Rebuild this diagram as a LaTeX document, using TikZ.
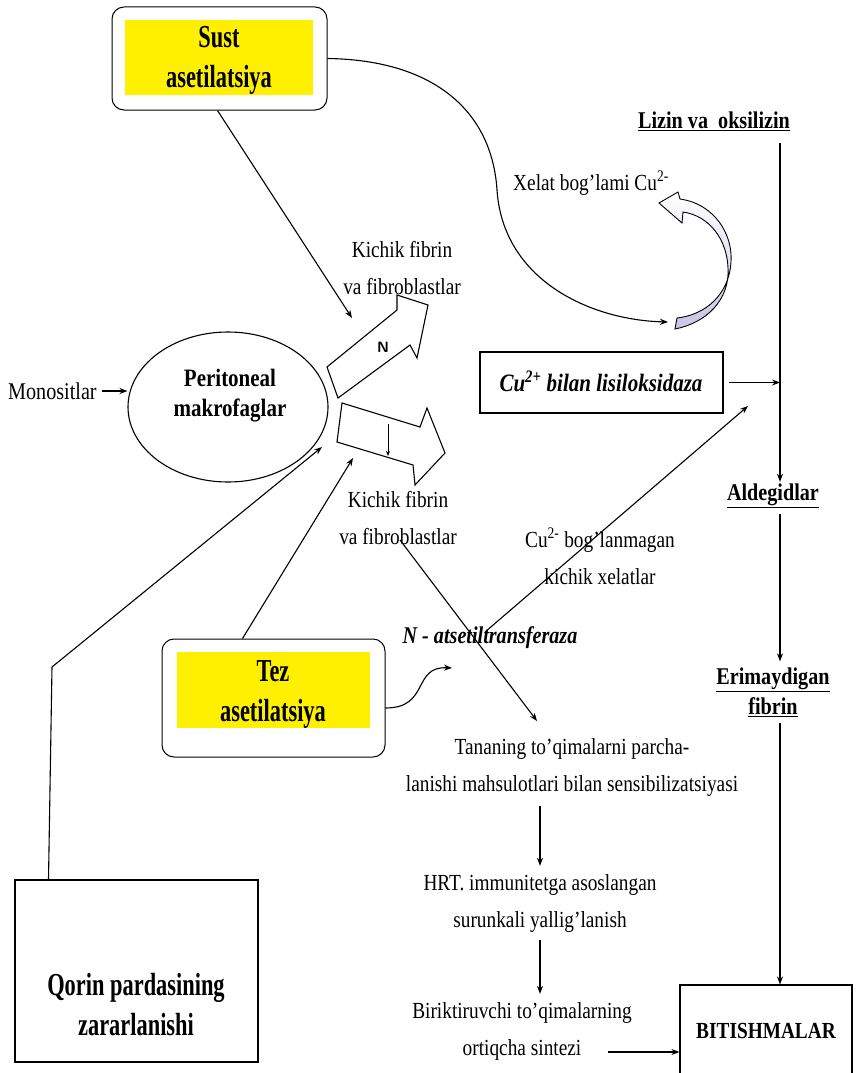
\documentclass[tikz,border=0pt]{standalone}
\usepackage{fontspec}
\setmainfont{Liberation Serif}[FakeStretch=0.84]
\newfontfamily\narrowfont{Liberation Serif}[FakeStretch=0.7]
\usetikzlibrary{arrows.meta,shapes.geometric}
\definecolor{yel}{RGB}{255,240,0}
\definecolor{lav}{RGB}{200,196,228}
\begin{document}
\begin{tikzpicture}[x=1pt,y=-1pt,
  arr/.style={-{Stealth[length=8pt,width=6pt]}, line width=1.1pt},
  sarr/.style={-{Stealth[length=5pt,width=4pt]}, line width=1pt},
  txt/.style={font=\fontsize{23}{37}\selectfont, align=center, inner sep=0pt},
  bl/.style={font=\bfseries\fontsize{23}{30}\selectfont, align=center, inner sep=0pt},
  boxlabel/.style={font=\narrowfont\bfseries\fontsize{32}{40}\selectfont, align=center, inner sep=0pt},
  rbox/.style={draw, rounded corners=12pt, line width=1pt, inner sep=0pt},
  sqbox/.style={draw, line width=1.1pt, inner sep=0pt},
  blk/.style={draw, fill=white, line width=1.1pt, line join=miter}]
\useasboundingbox (0,0) rectangle (858,1073);

% Sust asetilatsiya
\fill[yel] (125,20) rectangle (313,95);
\node[rbox, minimum width=215pt, minimum height=103pt] (sustbox) at (219.5,58.5) {};
\node[boxlabel] (sust) at (219,60) {Sust\\asetilatsiya};

% Tez asetilatsiya
\fill[yel] (177,652) rectangle (370,728);
\node[rbox, minimum width=223pt, minimum height=118pt] (tezbox) at (273.5,698) {};
\node[boxlabel] (tez) at (273,694) {Tez\\asetilatsiya};

% Peritoneal makrofaglar
\node[draw, ellipse, minimum width=200pt, minimum height=150pt, line width=1.1pt] (mak) at (228,407) {};
\node[font=\bfseries\fontsize{25}{30}\selectfont, align=center, inner sep=0pt] (makt) at (230,396) {Peritoneal\\makrofaglar};

\node[txt, font=\fontsize{24}{30}\selectfont, anchor=west] (mono) at (8,391) {Monositlar};
\draw[arr] ([xshift=5pt]mono.east) -- (mak.west |- mono.east);

% block arrows
\draw[blk] (327,367) -- (397,310) -- (397,295) -- (428,305) -- (417,358) -- (410,345) -- (338,398) -- cycle;
\node[font=\sffamily\bfseries\fontsize{15}{18}\selectfont, inner sep=0pt] (nlet) at (383,347) {N};
\draw[blk] (342,403) -- (420,427) -- (427,408) -- (445,453) -- (415,485) -- (413,465) -- (337,442) -- cycle;
\coordinate (da1) at (388,424);
\coordinate (da2) at (388,456);
\draw[sarr] (da1) -- (da2);

\node[txt] (kf1) at (402,268) {Kichik fibrin\\va fibroblastlar};
\node[txt] (kf2) at (398,518) {Kichik fibrin\\va fibroblastlar};

% arrows into the macrophage region
\coordinate (tipA) at (352,318);
\draw[arr] ([xshift=-2pt]sustbox.south) -- (tipA);
\coordinate (tipC) at (353,458);
\draw[arr] ([xshift=-31pt]tezbox.north) -- (tipC);
% Qorin pardasining
\node[sqbox, minimum width=243pt, minimum height=182pt] (qorinbox) at (136.5,971) {};
\node[boxlabel] (qorin) at (136,1005) {Qorin pardasining\\zararlanishi};
\coordinate (bend) at (52,667);
\coordinate (tipB) at (322,447);
\draw[arr] ([xshift=-88pt]qorinbox.north) -- (bend) -- (tipB);

% curve from Sust to the curved arrow
\coordinate (tipE) at (668,322);
\draw[arr] (sustbox.east) .. controls (435,60) and (492,112) .. (497,190) .. controls (503,280) and (590,320) .. (tipE);

% curved lavender block arrow
\shade[top color=white, bottom color=lav, draw=black, line width=0.9pt]
  (680,199) .. controls (715,204) and (733,235) .. (731,262)
  .. controls (729,295) and (705,315) .. (677,318) -- (675,329)
  .. controls (706,323) and (730,300) .. (728,268)
  .. controls (727,240) and (710,216) .. (683,212)
  -- (682,223) -- (659,203) -- (678,192) -- cycle;

\node[txt] (xelat) at (591,183) {Xelat bog'lami Cu\textsuperscript{2-}};

% right column
\coordinate (xcol) at (780,0);
\node[bl, font=\bfseries\fontsize{24}{28}\selectfont] (lizin) at (714,121) {\underline{Lizin va\ \ oksilizin}};
\node[bl, font=\bfseries\fontsize{24}{30}\selectfont] (aldeg) at (773,496) {\underline{Aldegidlar}};
\node[bl, font=\bfseries\fontsize{24}{30}\selectfont] (erim) at (773,692) {\underline{Erimaydigan}\\\underline{fibrin}};
\node[sqbox, minimum width=172pt, minimum height=100pt] (bitbox) at (766,1035) {};
\node[font=\bfseries\fontsize{23}{27}\selectfont, inner sep=0pt] (bit) at (766,1031) {BITISHMALAR};
\draw[arr] ([yshift=-12pt]lizin.south -| xcol) -- ([yshift=2pt]aldeg.north -| xcol);
\draw[arr] ([yshift=-6pt]aldeg.south -| xcol) -- ([yshift=6pt]erim.north -| xcol);
\draw[arr] ([yshift=-6pt]erim.south -| xcol) -- (bitbox.north -| xcol);

\node[sqbox, minimum width=243pt, minimum height=61pt] (lisbox) at (601.5,382.5) {};
\node[font=\bfseries\itshape\fontsize{25}{28}\selectfont, inner sep=0pt] (lis) at (601,381) {Cu\textsuperscript{2+} bilan lisiloksidaza};
\draw[arr] ([xshift=5pt]lisbox.east) -- (lisbox.east -| xcol);

% middle
\node[font=\bfseries\itshape\fontsize{24}{28}\selectfont, inner sep=0pt] (natr) at (490,638) {N - atsetiltransferaza};
\coordinate (tipT) at (452,668);
\draw[arr] ([yshift=-10pt]tezbox.east) .. controls (430,708) and (412,666) .. (tipT);
\node[txt] (cub) at (600,556) {Cu\textsuperscript{2-} bog'lanmagan\\kichik xelatlar};
\coordinate (tipD) at (748,406);
\draw[arr] ([xshift=-5pt,yshift=6pt]natr.center) -- (tipD);
\coordinate (tipF) at (537,721);
\draw[arr] ([xshift=2pt,yshift=-22pt]kf2.center) -- (tipF);

\node[txt] (tan) at (572,767) {Tananing to'qimalarni parcha-\\lanishi mahsulotlari bilan sensibilizatsiyasi};
\node[txt] (hrt) at (540,903) {HRT. immunitetga asoslangan\\surunkali yallig'lanish};
\node[txt] (bir) at (522,1031) {Biriktiruvchi to'qimalarning\\ortiqcha sintezi};
\coordinate (xmid) at (540,0);
\draw[arr] ([yshift=-10pt]tan.south -| xmid) -- ([yshift=8pt]hrt.north -| xmid);
\draw[arr] ([yshift=-8pt]hrt.south -| xmid) -- ([yshift=8pt]bir.north -| xmid);
\coordinate (b1) at (608,1052);
\draw[arr] (b1) -- (b1 -| bitbox.west);
\end{tikzpicture}
\end{document}
